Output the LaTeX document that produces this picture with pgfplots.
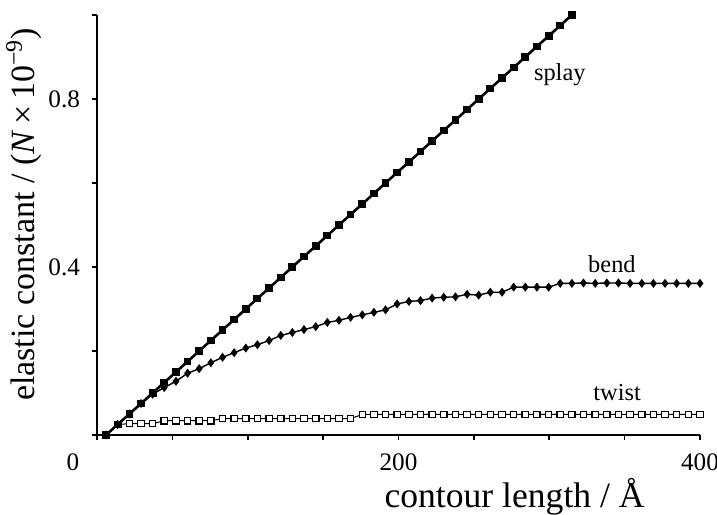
\documentclass[border=0pt]{standalone}
\usepackage{fontspec}
\setmainfont{Liberation Serif}
\usepackage{pgfplots}
\pgfplotsset{compat=1.18}
\usepackage{pgfplotstable}

\pgfplotstableread{
x splay
6.0 0.000
13.7 0.025
21.5 0.050
29.2 0.075
36.9 0.100
44.6 0.125
52.4 0.150
60.1 0.175
67.8 0.200
75.5 0.225
83.3 0.250
91.0 0.275
98.7 0.300
106.4 0.325
114.2 0.350
121.9 0.375
129.6 0.400
137.3 0.425
145.1 0.450
152.8 0.475
160.5 0.500
168.2 0.525
176.0 0.550
183.7 0.575
191.4 0.600
199.1 0.625
206.9 0.650
214.6 0.675
222.3 0.700
230.0 0.725
237.8 0.750
245.5 0.775
253.2 0.800
260.9 0.825
268.7 0.850
276.4 0.875
284.1 0.900
291.8 0.925
299.6 0.950
307.3 0.975
315.0 1.000
}\splaytable

\pgfplotstableread{
x bend twist
6.0 0.000 0.000
13.7 0.025 0.025
21.5 0.050 0.027
29.2 0.075 0.027
36.9 0.097 0.027
44.6 0.113 0.034
52.4 0.128 0.034
60.1 0.147 0.034
67.8 0.158 0.034
75.5 0.172 0.034
83.3 0.185 0.039
91.0 0.196 0.039
98.7 0.207 0.039
106.4 0.215 0.039
114.2 0.225 0.039
121.9 0.237 0.039
129.6 0.244 0.039
137.3 0.251 0.039
145.1 0.258 0.039
152.8 0.268 0.039
160.5 0.273 0.039
168.2 0.280 0.039
176.0 0.286 0.049
183.7 0.292 0.049
191.4 0.298 0.049
199.1 0.312 0.049
206.9 0.318 0.049
214.6 0.320 0.049
222.3 0.326 0.049
230.0 0.328 0.049
237.8 0.329 0.049
245.5 0.335 0.049
253.2 0.333 0.049
260.9 0.340 0.049
268.7 0.340 0.049
276.4 0.352 0.049
284.1 0.352 0.049
291.8 0.352 0.049
299.6 0.352 0.049
307.3 0.361 0.049
315.0 0.361 0.049
322.7 0.362 0.049
330.5 0.361 0.049
338.2 0.362 0.049
345.9 0.362 0.049
353.6 0.361 0.049
361.4 0.361 0.049
369.1 0.361 0.049
376.8 0.361 0.049
384.5 0.361 0.049
392.3 0.361 0.049
400.0 0.361 0.049
}\datatable

\begin{document}
\begin{tikzpicture}
\begin{axis}[name=ax, scale only axis, width=301.5pt, height=210pt,
  xmin=0, xmax=400, ymin=0, ymax=1,
  axis lines*=left, axis line style={line width=0.9pt},
  tick align=outside, major tick length=2.5pt, tick style={line width=0.8pt, black},
  xtick={0,50,100,150,200,250,300,350,400}, xticklabels={,,,,200,,,,400},
  ytick={0,0.2,0.4,0.6,0.8,1}, yticklabels={,,0.4,,0.8,},
  ticklabel style={font=\fontsize{12.6}{15}\selectfont},
  /pgf/number format/assume math mode=true,
  xticklabel style={yshift=-3.5pt},
  yticklabel style={xshift=-2.5pt},
  clip=false]
\addplot[line width=0.5pt, mark=square*, mark size=1.6pt, mark options={fill=white, draw=black, line width=0.6pt}] table[x=x,y=twist]{\datatable};
\addplot[line width=0.7pt, mark=diamond*, mark size=1.7pt] table[x=x,y=bend]{\datatable};
\addplot[line width=1.3pt, mark=square*, mark size=1.3pt] table[x=x,y=splay]{\splaytable};
\node[font=\fontsize{12.2}{14}\selectfont] at (axis cs:307,0.858) {splay};
\node[font=\fontsize{12.2}{14}\selectfont] at (axis cs:341.6,0.407) {bend};
\node[font=\fontsize{12.2}{14}\selectfont] at (axis cs:345,0.100) {twist};
\node[font=\fontsize{12.6}{15}\selectfont] at ([xshift=-12pt,yshift=-13.5pt]axis cs:0,0) {0};
\node[font=\fontsize{17.8}{21}\selectfont, anchor=base] at ([yshift=-36pt]axis cs:277,0) {contour length / Å};
\node[font=\fontsize{17}{20}\selectfont, rotate=90] at ([xshift=-36.5pt]axis cs:0,0.525) {elastic constant / (\textit{N}\,×\,10\textsuperscript{−9})};
\end{axis}
\pgfresetboundingbox
\path[use as bounding box] ([shift={(-48.5pt,-39.5pt)}]ax.south west) rectangle ([shift={(8.5pt,7.5pt)}]ax.north east);
\end{tikzpicture}
\end{document}
